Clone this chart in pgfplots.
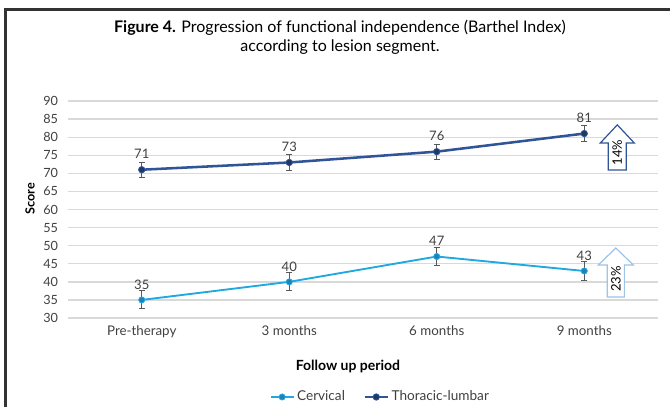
\documentclass[border=0pt]{standalone}
\usepackage{pgfplots}
\pgfplotsset{compat=1.18}
\usepackage{fontspec}
\setmainfont{Lato}
\definecolor{cerv}{RGB}{32,168,224}
\definecolor{cervm}{RGB}{30,130,185}
\definecolor{thor}{RGB}{47,85,151}
\definecolor{thorm}{RGB}{32,56,100}
\definecolor{gridc}{RGB}{217,217,217}
\definecolor{errc}{RGB}{89,89,89}
\definecolor{lblc}{RGB}{64,64,64}
\definecolor{arrlight}{RGB}{157,195,230}
\begin{document}
\begin{tikzpicture}
\path[use as bounding box] (0,0) rectangle (502.5pt,305.25pt);
\begin{axis}[
  at={(51pt,66.75pt)}, anchor=south west,
  scale only axis, width=442.5pt, height=162.75pt,
  xmin=-0.5, xmax=3.5, ymin=30, ymax=90,
  xtick={0,1,2,3},
  xticklabels={Pre-therapy,3 months,6 months,9 months},
  ytick={30,35,...,90},
  ymajorgrids, grid style={color=gridc, line width=1pt},
  axis line style={draw=none}, major tick style={draw=none},
  /pgf/number format/assume math mode=true,
  tick label style={font=\fontsize{9.5}{11}\selectfont, text=lblc},
  xticklabel style={yshift=-2.5pt, font=\fontsize{10}{12}\selectfont},
  yticklabel style={xshift=-4pt},
  clip=false,
  legend columns=2,
  legend style={at={(0.53,-0.364)}, anchor=center, draw=none, fill=none,
    font=\fontsize{10.2}{11}\selectfont, text=lblc,
    /tikz/every even column/.append style={column sep=12pt}},
  legend cell align=left,
  nodes near coords,
  every node near coord/.append style={font=\fontsize{9.8}{11}\selectfont, text=lblc, anchor=center, yshift=11.6pt},
]
\addplot[color=cerv, line width=1.4pt, mark=*, mark size=2.3pt,
  mark options={fill=cervm, draw=cerv, line width=0.6pt},
  error bars/.cd, y dir=both, y explicit,
  error bar style={color=errc, line width=0.7pt},
  error mark options={rotate=90, mark size=2.4pt, color=errc, line width=0.7pt}]
  coordinates {(0,35) +- (0,2.5) (1,40) +- (0,2.5) (2,47) +- (0,2.4) (3,43) +- (0,2.5)};
\addlegendentry{Cervical}
\addplot[color=thor, line width=1.9pt, mark=*, mark size=2.4pt,
  mark options={fill=thorm, draw=thor, line width=0.6pt},
  error bars/.cd, y dir=both, y explicit,
  error bar style={color=errc, line width=0.7pt},
  error mark options={rotate=90, mark size=2.4pt, color=errc, line width=0.7pt}]
  coordinates {(0,71) +- (0,2.1) (1,73) +- (0,2.1) (2,76) +- (0,2.1) (3,81) +- (0,2.2)};
\addlegendentry{Thoracic-lumbar}
% arrows
\draw[thor, line width=0.9pt, fill=white, line join=miter]
  (axis cs:3.163,70.9) -- (axis cs:3.163,78.4) -- (axis cs:3.109,78.4) -- (axis cs:3.224,83.4)
  -- (axis cs:3.339,78.4) -- (axis cs:3.285,78.4) -- (axis cs:3.285,70.9) -- cycle;
\node[rotate=90, font=\fontsize{9.8}{11}\selectfont, text=black] at (axis cs:3.224,75.7) {14\%};
\draw[arrlight, line width=0.9pt, fill=white, line join=miter]
  (axis cs:3.156,35.8) -- (axis cs:3.156,44.65) -- (axis cs:3.095,44.65) -- (axis cs:3.214,49.35)
  -- (axis cs:3.333,44.65) -- (axis cs:3.272,44.65) -- (axis cs:3.272,35.8) -- cycle;
\node[rotate=90, font=\fontsize{9.8}{11}\selectfont, text=black] at (axis cs:3.214,40.8) {23\%};
\end{axis}
\begin{scope}[x=0.75pt, y=0.75pt]
\draw[color=black!80, line width=1.6pt] (5.5,0) -- (5.5,397.5) -- (670,397.5);
\node[align=center, font=\fontsize{12}{14.25}\selectfont] at (340,369.5)
  {\textbf{Figure 4.} Progression of functional independence (Barthel Index)\\according to lesion segment.};
\node[font=\bfseries\fontsize{10.5}{12}\selectfont] at (348,41) {Follow up period};
\node[rotate=90, font=\bfseries\fontsize{9.5}{11}\selectfont] at (30,208) {Score};
\end{scope}
\end{tikzpicture}
\end{document}
